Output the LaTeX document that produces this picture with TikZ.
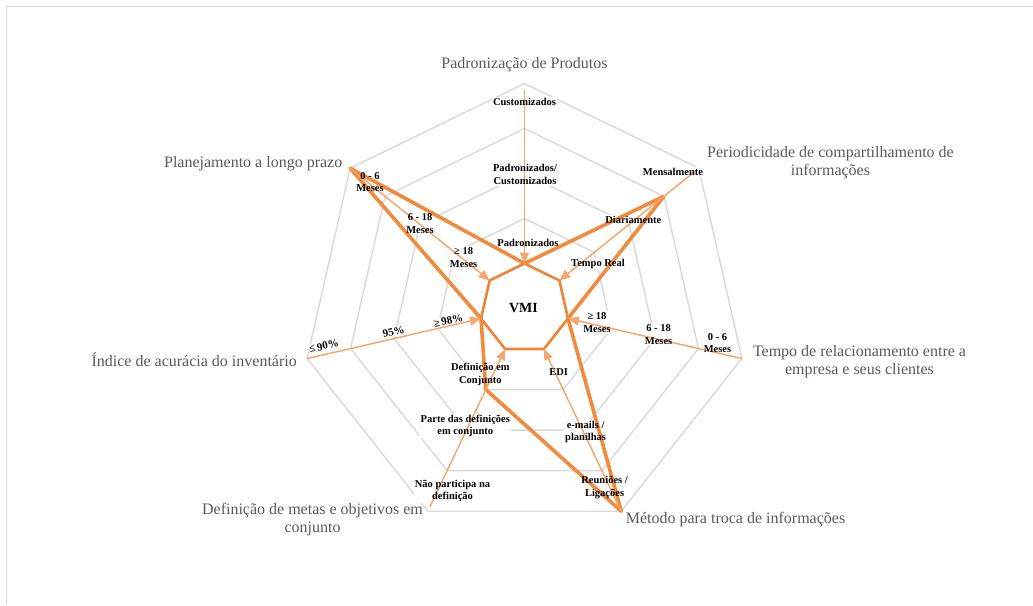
\documentclass[tikz,border=0pt]{standalone}
\usepackage{fontspec}
\setmainfont{Liberation Serif}
\usetikzlibrary{arrows.meta}
\definecolor{gridgray}{HTML}{D9D9D9}
\definecolor{titlegray}{HTML}{595959}
\definecolor{thickorange}{HTML}{F08A3C}
\definecolor{vmiorange}{HTML}{EE8437}
\definecolor{arroworange}{HTML}{F4A86F}
\pgfdeclarelayer{ringlayer}
\pgfdeclarelayer{masklayer}
\pgfdeclarelayer{datalayer}
\pgfsetlayers{ringlayer,masklayer,datalayer,main}

\begin{document}
\begin{tikzpicture}[x=1pt,y=1pt,
  gridring/.style={draw=gridgray,line width=1.4pt,line join=miter},
  frameline/.style={draw=gridgray,line width=1.4pt},
  axistitle/.style={text=titlegray,font=\fontsize{16}{18}\selectfont,align=center,inner sep=0pt},
  levellabel/.style={font=\bfseries\fontsize{10.5}{12.7}\selectfont,align=center,inner sep=1pt},
  pctlabel/.style={font=\bfseries\fontsize{11}{13}\selectfont,inner sep=0.5pt,rotate=12.5},
  starline/.style={draw=thickorange,line width=3.6pt,line join=round},
  vmiline/.style={draw=vmiorange,line width=2.6pt,line join=round},
  pointer/.style={draw=arroworange,line width=1.5pt,-{Triangle[length=11pt,width=9pt]}},
]
\useasboundingbox (0,0) rectangle (1033,-605);
\draw[frameline] (6.5,-605) -- (6.5,-6.5) -- (1033,-6.5);

% vertices of the seven axes on the five rings
\foreach \i in {0,...,6}{
  \foreach \k in {1,...,5}{
    \coordinate (p\i-\k) at ({524.5+223*sin(\i*360/7)*\k/5},{-308.5+225*cos(\i*360/7)*\k/5});
  }
}

% rings
\begin{pgfonlayer}{ringlayer}
\foreach \k in {1,...,5}
  \draw[gridring] (p0-\k) -- (p1-\k) -- (p2-\k) -- (p3-\k) -- (p4-\k) -- (p5-\k) -- (p6-\k) -- cycle;
\end{pgfonlayer}

% axis titles
\node[axistitle] (t0) at (524.5,-65) {Padronização de Produtos};
\node[axistitle] (t1) at (830.5,-163) {Periodicidade de compartilhamento de\\informações};
\node[axistitle] (t2) at (859.5,-361.5) {Tempo de relacionamento entre a\\empresa e seus clientes};
\node[axistitle] (t3) at (735.5,-520) {Método para troca de informações};
\node[axistitle] (t4) at (312.5,-520) {Definição de metas e objetivos em\\conjunto};
\node[axistitle] (t5) at (194.2,-360) {Índice de acurácia do inventário};
\node[axistitle] (t6) at (253.2,-163.3) {Planejamento a longo prazo};

% level labels on each axis
\node[levellabel] (l0a) at (524.5,-101.7) {Customizados};
\node[levellabel] (l0b) at (525,-174.7) {Padronizados/\\Customizados};
\node[levellabel] (l0c) at (528,-243.3) {Padronizados};
\node[levellabel] (l1a) at (673,-172.3) {Mensalmente};
\node[levellabel] (l1b) at (633.3,-220) {Diariamente};
\node[levellabel] (l1c) at (598,-264) {Tempo Real};
\node[levellabel] (l2a) at (597,-322.5) {≥ 18\\Meses};
\node[levellabel] (l2b) at (658.6,-334.3) {6 - 18\\Meses};
\node[levellabel] (l2c) at (717.5,-343) {0 - 6\\Meses};
\node[levellabel] (l3a) at (558.7,-371.7) {EDI};
\node[levellabel] (l3b) at (585.6,-432) {e-mails /\\planilhas};
\node[levellabel] (l3c) at (604.6,-487.2) {Reuniões /\\Ligações};
\node[levellabel] (l4a) at (480.4,-374.5) {Definição em\\Conjunto};
\node[levellabel] (l4b) at (465.3,-426) {Parte das definições\\em conjunto};
\node[levellabel] (l4c) at (452.5,-491) {Não participa na\\definição};
\node[pctlabel] (l5a) at (448.3,-320.8) {≥\,98\%};
\node[pctlabel] (l5b) at (393.6,-331.7) {95\%};
\node[pctlabel] (l5c) at (324,-346) {≤\,90\%};
\node[levellabel] (l6a) at (463.6,-257.5) {≥ 18\\Meses};
\node[levellabel] (l6b) at (420,-223.7) {6 - 18\\Meses};
\node[levellabel] (l6c) at (370,-182.2) {0 - 6\\Meses};
\node[font=\bfseries\fontsize{14}{16}\selectfont] (vmi) at (523.5,-308.5) {VMI};

% white patches behind the level labels
\begin{pgfonlayer}{masklayer}
\foreach \n in {l0a,l0b,l0c,l1a,l1b,l1c,l2a,l2b,l2c,l3a,l3b,l3c,l4a,l4b,l4c,l5a,l5b,l5c,l6a,l6b,l6c}
  \fill[white] (\n.south west) -- (\n.south east) -- (\n.north east) -- (\n.north west) -- cycle;
\end{pgfonlayer}

% VMI polygon, current profile and pointers towards VMI
\begin{pgfonlayer}{datalayer}
\draw[vmiline] (p0-1) -- (p1-1) -- (p2-1) -- (p3-1) -- (p4-1) -- (p5-1) -- (p6-1) -- cycle;
\draw[starline] (p0-1) -- (p1-4) -- (p2-1) -- (p3-5) -- (p4-2) -- (p5-1) -- (p6-5) -- cycle;
\draw[pointer,shorten <=5pt] (p0-5) -- (p0-1);
\draw[pointer,shorten <=6pt] (p1-5) -- (p1-1);
\draw[pointer] (p2-5) -- (p2-1);
\draw[pointer] (p3-5) -- (p3-1);
\draw[pointer,shorten <=5pt] (p4-5) -- (p4-1);
\draw[pointer] (p5-5) -- (p5-1);
\draw[pointer] (p6-5) -- (p6-1);
\end{pgfonlayer}
\end{tikzpicture}
\end{document}
